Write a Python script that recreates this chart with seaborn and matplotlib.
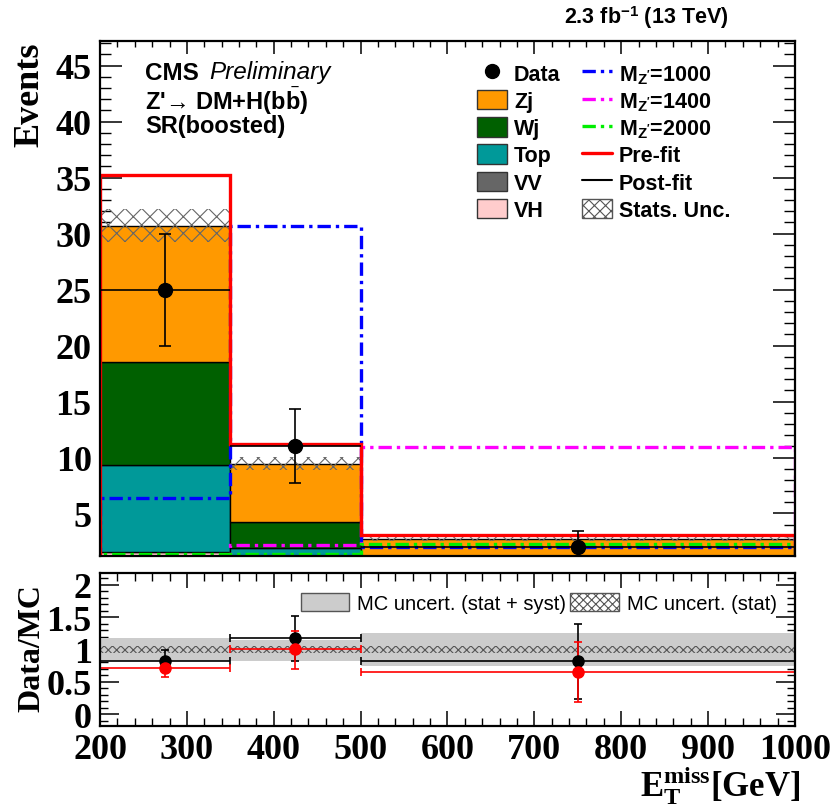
import numpy as np
import pandas as pd
import matplotlib
matplotlib.use('Agg')
import matplotlib.pyplot as plt
import seaborn as sns
from matplotlib.patches import Patch
from matplotlib.lines import Line2D
from matplotlib.ticker import MultipleLocator, FormatStrFormatter

# MET binning
edges = [200, 350, 500, 1000]
centers = [275, 425, 750]

# post-fit backgrounds
zj = [12.2, 5.25, 1.55]
wj = [9.2, 2.25, 0.5]
top = [7.7, 1.25, 0.3]
vh = [0.7, 0.3, 0.15]
vv = [0.9, 0.4, 0.2]
stat_unc = [1.45, 0.6, 0.2]

# pre-fit total and signals
prefit = [35.2, 11.2, 3.1]
mz1000 = [6.4, 30.7, 2.0]
mz1400 = [0.8, 2.2, 10.9]
mz2000 = [1.35, 1.35, 2.3]

data = [25, 11, 2]
data_err = [5.0, 3.32, 1.41]

# ratio panel
ratio_post = [0.82, 1.17, 0.82]
ratio_post_lo = [0.66, 0.82, 0.24]
ratio_post_hi = [0.99, 1.52, 1.39]
ratio_pre = [0.71, 1.0, 0.66]
ratio_pre_lo = [0.58, 0.70, 0.19]
ratio_pre_hi = [0.85, 1.28, 1.11]
syst_lo = [0.82, 0.82, 0.75]
syst_hi = [1.17, 1.14, 1.26]
stat_lo = [0.95, 0.95, 0.95]
stat_hi = [1.05, 1.05, 1.05]

procs = ['Zj', 'Wj', 'Top', 'VH', 'VV']
colors = {'Zj': '#ff9900', 'Wj': '#006000', 'Top': '#009999',
          'VV': '#666666', 'VH': '#ffcccc'}

sns.set_theme(style='ticks')
plt.rcParams['font.family'] = ['Liberation Sans', 'DejaVu Sans']
plt.rcParams['font.weight'] = 'bold'
plt.rcParams['text.color'] = 'black'
plt.rcParams['axes.labelcolor'] = 'black'
plt.rcParams['xtick.color'] = 'black'
plt.rcParams['ytick.color'] = 'black'
plt.rcParams['axes.edgecolor'] = 'black'
plt.rcParams['mathtext.fontset'] = 'custom'
plt.rcParams['mathtext.rm'] = 'Liberation Serif:bold'
plt.rcParams['mathtext.sf'] = 'Liberation Sans:bold'
plt.rcParams['mathtext.it'] = 'Liberation Serif:bold'
plt.rcParams['mathtext.bf'] = 'Liberation Serif:bold'
plt.rcParams['hatch.linewidth'] = 0.8
plt.rcParams['axes.linewidth'] = 1.6

fig = plt.figure(figsize=(8.32, 8.12), dpi=100)
ax = fig.add_axes([0.1202, 0.314, 0.8353, 0.6343])
rax = fig.add_axes([0.1202, 0.1047, 0.8353, 0.1884])

widths = np.diff(edges)
total = np.array(zj) + np.array(wj) + np.array(top) + np.array(vh) + np.array(vv)

# stacked backgrounds
df = pd.DataFrame({
    'met': centers * len(procs),
    'events': zj + wj + top + vh + vv,
    'process': np.repeat(procs, len(centers)),
})
sns.histplot(data=df, x='met', weights='events', hue='process', hue_order=procs,
             multiple='stack', bins=edges, palette=colors, alpha=1,
             edgecolor='black', linewidth=1, legend=False, ax=ax)

# stat uncertainty hatch
ax.bar(centers, 2 * np.array(stat_unc), width=widths, bottom=total - np.array(stat_unc),
       fill=False, hatch='xx', edgecolor='#666666', linewidth=0)

dash = (0, (4, 1.5, 1, 1.5))
ax.stairs(mz1000, edges, color='#0000ff', linewidth=2.4, linestyle=dash)
ax.stairs(mz1400, edges, color='#ff00ff', linewidth=2.4, linestyle=dash)
ax.stairs(mz2000, edges, color='#00ee00', linewidth=2.4, linestyle=dash)
ax.stairs(prefit, edges, color='#ff0000', linewidth=2.4)

ax.errorbar(centers, data, yerr=data_err, fmt='o', color='black', ms=10,
            elinewidth=1.2, capsize=4, capthick=1.2)
ax.errorbar(centers, data, xerr=widths / 2, fmt='none', ecolor='black', elinewidth=1.2)

ax.set_xlim(200, 1000)
ax.set_ylim(1.2, 47.2)
ax.set_xlabel('')
ax.set_ylabel('')
ax.yaxis.set_major_locator(MultipleLocator(5))
ax.yaxis.set_minor_locator(MultipleLocator(1))
ax.xaxis.set_major_locator(MultipleLocator(100))
ax.xaxis.set_minor_locator(MultipleLocator(20))
ax.tick_params(axis='both', which='both', direction='in', top=True, right=True,
               labelbottom=False, color='black')
ax.tick_params(axis='y', which='major', length=16, width=1.1, labelsize=26,
               labelfontfamily='Liberation Serif', pad=6)
ax.tick_params(axis='y', which='minor', length=8, width=1.0)
ax.tick_params(axis='x', which='major', length=9, width=1.1)
ax.tick_params(axis='x', which='minor', length=4.5, width=1.0)

handles = [
    Line2D([], [], marker='o', color='black', ls='none', ms=10),
    Patch(fc=colors['Zj'], ec='#333333'),
    Patch(fc=colors['Wj'], ec='#333333'),
    Patch(fc=colors['Top'], ec='#333333'),
    Patch(fc=colors['VV'], ec='#333333'),
    Patch(fc=colors['VH'], ec='#333333'),
    Line2D([], [], color='#0000ff', lw=2.4, ls=dash),
    Line2D([], [], color='#ff00ff', lw=2.4, ls=dash),
    Line2D([], [], color='#00ee00', lw=2.4, ls=dash),
    Line2D([], [], color='#ff0000', lw=2.4),
    Line2D([], [], color='black', lw=1.5),
    Patch(fc='white', ec='#555555', hatch='xxx'),
]
labels = ['Data', 'Zj', 'Wj', 'Top', 'VV', 'VH',
          r"M$_{\mathsf{Z'}}$=1000", r"M$_{\mathsf{Z'}}$=1400", r"M$_{\mathsf{Z'}}$=2000",
          'Pre-fit', 'Post-fit', 'Stats. Unc.']
ax.legend(handles, labels, ncol=2, loc='upper left', bbox_to_anchor=(0.515, 0.995),
          frameon=False, prop={'size': 15.5, 'weight': 'bold'}, handlelength=1.4,
          handleheight=1.0, labelspacing=0.24, columnspacing=1.0, handletextpad=0.3)

fig.text(145 / 832, 1 - 73 / 812, 'CMS', fontsize=17.5, fontweight='bold', va='center')
fig.text(209 / 832, 1 - 73 / 812, 'Preliminary', fontsize=17.5, fontweight='normal',
         fontstyle='italic', va='center')
fig.text(145 / 832, 1 - 101 / 812, r"Z'→ DM+H(b$\bar{\mathsf{b}}$)", fontsize=17,
         fontweight='bold', va='center')
fig.text(145 / 832, 1 - 127 / 812, 'SR(boosted)', fontsize=17, fontweight='bold', va='center')
fig.text(728 / 832, 1 - 18 / 812, r'2.3 fb$^{\mathsf{-1}}$ (13 TeV)', fontsize=15.5,
         fontweight='bold', ha='right', va='center')
fig.text(30 / 832, 1 - 95 / 812, 'Events', fontsize=26, fontweight='bold',
         family='Liberation Serif', rotation=90, ha='center', va='center')

# ratio panel
rax.bar(centers, np.subtract(syst_hi, syst_lo), width=widths, bottom=syst_lo,
        color='#cccccc', linewidth=0)
rax.bar(centers, np.subtract(stat_hi, stat_lo), width=widths, bottom=stat_lo,
        fill=False, hatch='xxxx', edgecolor='#555555', linewidth=0)
rax.errorbar(centers, ratio_post,
             yerr=[np.subtract(ratio_post, ratio_post_lo), np.subtract(ratio_post_hi, ratio_post)],
             xerr=widths / 2, fmt='o', color='black', ms=8, elinewidth=1.2,
             capsize=3, capthick=1.2)
rax.errorbar(centers, ratio_pre,
             yerr=[np.subtract(ratio_pre, ratio_pre_lo), np.subtract(ratio_pre_hi, ratio_pre)],
             xerr=widths / 2, fmt='o', color='#ff0000', ms=8, elinewidth=1.2,
             capsize=3, capthick=1.2)
rax.set_xlim(200, 1000)
rax.set_ylim(-0.18, 2.18)
rax.yaxis.set_major_locator(MultipleLocator(0.5))
rax.yaxis.set_minor_locator(MultipleLocator(0.1))
rax.yaxis.set_major_formatter(FormatStrFormatter('%g'))
rax.xaxis.set_major_locator(MultipleLocator(100))
rax.xaxis.set_minor_locator(MultipleLocator(20))
rax.tick_params(axis='both', which='both', direction='in', top=True, right=True, color='black')
rax.tick_params(axis='y', which='major', length=14, width=1.1, labelsize=26,
                labelfontfamily='Liberation Serif', pad=6)
rax.tick_params(axis='y', which='minor', length=6, width=1.0)
rax.tick_params(axis='x', which='major', length=11, width=1.1, labelsize=26,
                labelfontfamily='Liberation Serif', pad=5)
rax.tick_params(axis='x', which='minor', length=6, width=1.0)

rax.legend([Patch(fc='#cccccc', ec='#555555'), Patch(fc='white', ec='#555555', hatch='xxxx')],
           ['MC uncert. (stat + syst)', 'MC uncert. (stat)'], ncol=2, loc='upper right',
           bbox_to_anchor=(1.0, 0.99), frameon=False, prop={'size': 14.5, 'weight': 'normal'},
           handlelength=2.4, handleheight=1.0, handletextpad=0.4, columnspacing=0.2)

fig.text(32 / 832, 1 - 648 / 812, 'Data/MC', fontsize=23, fontweight='bold',
         family='Liberation Serif', rotation=90, ha='center', va='center')
fig.text(800 / 832, 1 - 786 / 812, r'$\mathrm{E}_{\mathrm{T}}^{\mathrm{miss}}$[GeV]',
         fontsize=25, fontweight='bold', family='Liberation Serif', ha='right', va='center')

fig.savefig('out.png', dpi=100, facecolor='white')
